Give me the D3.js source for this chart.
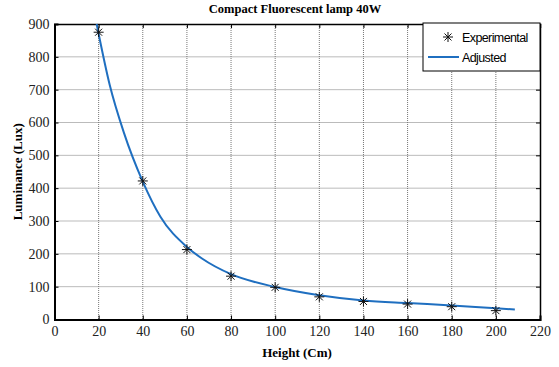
<!DOCTYPE html>
<html>
<head>
<meta charset="utf-8">
<script src="https://cdn.jsdelivr.net/npm/d3@7"></script>
<style>
  body { margin: 0; background: #fff; }
  .grid line { stroke: #777; stroke-dasharray: 1,1; stroke-width: 1; }
</style>
</head>
<body>
<div id="chart"></div>
<script>
// Данные с графика
let heights = [20, 40, 60, 80, 100, 120, 140, 160, 180, 200];
let luminance = [875, 422, 213, 132, 98, 69, 55, 47, 39, 27];

// Точки подобранной кривой
let fitX = [19.1, 25, 31.4, 40, 48, 60, 67, 80, 100, 120, 140, 160, 180, 200, 208.6];
let fitY = [900, 715, 570, 420, 313, 221, 185, 138, 99, 74, 58, 50, 43, 34, 30.5];

let xTicks = [0, 20, 40, 60, 80, 100, 120, 140, 160, 180, 200, 220];
let yTicks = [0, 100, 200, 300, 400, 500, 600, 700, 800, 900];

let width = 559, height = 367;
let plotLeft = 54.5, plotRight = 540, plotTop = 24, plotBottom = 319.5;

let svg = d3.select('#chart').append('svg').attr('width', width).attr('height', height);

let x = d3.scaleLinear().domain([0, 220]).range([plotLeft, plotRight]);
let y = d3.scaleLinear().domain([0, 900]).range([plotBottom, plotTop]);

// Сетка
let grid = svg.append('g').attr('class', 'grid');
grid.selectAll('.vx').data(xTicks.slice(1, -1)).enter().append('line')
    .attr('x1', d => x(d)).attr('x2', d => x(d)).attr('y1', plotTop).attr('y2', plotBottom);
grid.selectAll('.hy').data(yTicks.slice(1, -1)).enter().append('line')
    .attr('x1', plotLeft).attr('x2', plotRight).attr('y1', d => y(d)).attr('y2', d => y(d));

// Стиль подписей делений
function tickStyle(g) {
    g.selectAll('.tick text')
        .style('font-family', '"Liberation Serif", serif')
        .style('font-size', '14px')
        .attr('fill', '#222');
    g.select('.domain').attr('stroke', '#000').attr('stroke-width', 2);
}

// Оси
svg.append('g').attr('transform', `translate(0,${plotBottom})`)
    .call(d3.axisBottom(x).tickValues(xTicks).tickSize(-4).tickPadding(7))
    .call(tickStyle);
svg.append('g').attr('transform', `translate(${plotLeft},0)`)
    .call(d3.axisLeft(y).tickValues(yTicks).tickSize(-4).tickPadding(5))
    .call(tickStyle);
svg.append('g').attr('transform', `translate(0,${plotTop})`)
    .call(d3.axisTop(x).tickValues(xTicks).tickSize(-4).tickFormat(''))
    .call(g => g.select('.domain').attr('stroke', '#000').attr('stroke-width', 1.5));
svg.append('g').attr('transform', `translate(${plotRight},0)`)
    .call(d3.axisRight(y).tickValues(yTicks).tickSize(-4).tickFormat(''))
    .call(g => g.select('.domain').attr('stroke', '#000').attr('stroke-width', 1.5));

// Подобранная кривая
let fitData = fitX.map((v, i) => [v, fitY[i]]);
svg.append('path').datum(fitData)
    .attr('fill', 'none').attr('stroke', '#1f6fc0').attr('stroke-width', 2)
    .attr('d', d3.line().x(d => x(d[0])).y(d => y(d[1])).curve(d3.curveMonotoneX));

// Звездочки
function star(g, r) {
    g.append('line').attr('x1', -r).attr('x2', r).attr('y1', 0).attr('y2', 0);
    g.append('line').attr('x1', 0).attr('x2', 0).attr('y1', -r).attr('y2', r);
    g.append('line').attr('x1', -r * 0.7).attr('x2', r * 0.7).attr('y1', -r * 0.7).attr('y2', r * 0.7);
    g.append('line').attr('x1', -r * 0.7).attr('x2', r * 0.7).attr('y1', r * 0.7).attr('y2', -r * 0.7);
}
svg.selectAll('.pt').data(heights).enter().append('g')
    .attr('class', 'pt')
    .attr('transform', (d, i) => `translate(${x(d)},${y(luminance[i])})`)
    .attr('stroke', '#111').attr('stroke-width', 1)
    .each(function() { star(d3.select(this), 5); });

// Заголовок и подписи
svg.append('text').attr('x', 295).attr('y', 13).attr('text-anchor', 'middle')
    .style('font-family', '"Liberation Serif", serif').style('font-weight', 'bold').style('font-size', '12.5px')
    .text('Compact Fluorescent lamp 40W');
svg.append('text').attr('x', 297).attr('y', 357).attr('text-anchor', 'middle')
    .style('font-family', '"Liberation Serif", serif').style('font-weight', 'bold').style('font-size', '13px')
    .text('Height (Cm)');
svg.append('text').attr('transform', `translate(22,${(plotTop + plotBottom) / 2}) rotate(-90)`).attr('text-anchor', 'middle')
    .style('font-family', '"Liberation Serif", serif').style('font-weight', 'bold').style('font-size', '13px')
    .text('Luminance (Lux)');

// Легенда
let legend = svg.append('g');
legend.append('rect').attr('x', 423).attr('y', 23).attr('width', 117).attr('height', 48)
    .attr('fill', '#fff').attr('stroke', '#000').attr('stroke-width', 1);
let ls = legend.append('g').attr('transform', 'translate(448,37)').attr('stroke', '#111').attr('stroke-width', 1);
star(ls, 5);
legend.append('line').attr('x1', 428).attr('x2', 459).attr('y1', 57).attr('y2', 57)
    .attr('stroke', '#1f6fc0').attr('stroke-width', 2);
legend.selectAll('.lt').data(['Experimental', 'Adjusted']).enter().append('text')
    .attr('x', 462).attr('y', (d, i) => 42 + i * 20)
    .style('font-family', '"Liberation Sans", Arial, sans-serif').style('font-size', '12.5px')
    .style('letter-spacing', '-0.6px')
    .text(d => d);
</script>
</body>
</html>
